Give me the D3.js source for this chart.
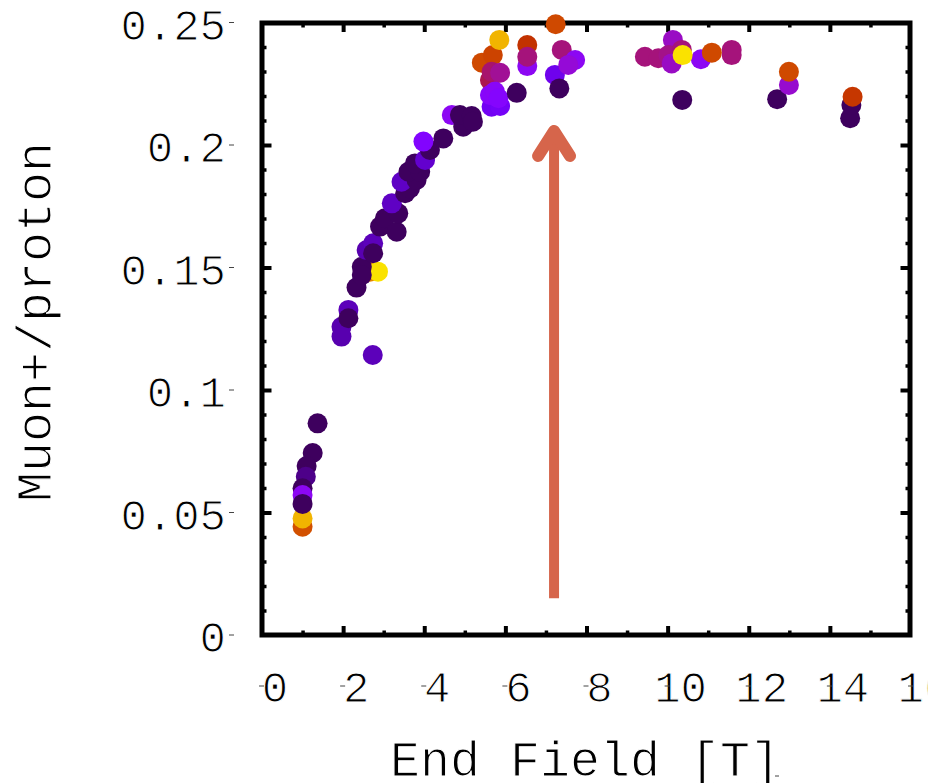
<!DOCTYPE html>
<html>
<head>
<meta charset="utf-8">
<script src="https://cdn.jsdelivr.net/npm/d3@7"></script>
<style>
  html, body { margin: 0; padding: 0; background: #ffffff; }
  svg { display: block; }
  text { font-family: "Liberation Mono", "Courier New", monospace; fill: #000;
         stroke: #fff; stroke-width: 1.1px; paint-order: normal; }
</style>
</head>
<body>
<svg id="chart" width="928" height="783"></svg>
<script>
// ---------------- data ----------------
// End field [T]
const fieldT = [
  // bottom cluster near 1 T
  1.37, 1.25, 1.10, 1.08, 1.00, 1.00, 1.00, 1.00, 1.00,
  // 2 - 3 T
  2.73, 1.96, 1.96, 2.13, 2.13, 2.33,
  2.66, 2.86, 2.46, 2.46, 2.58, 2.74, 2.74,
  // 3 - 5 T
  2.91, 3.03, 3.32, 3.36, 3.20, 3.53, 3.65, 3.44, 3.81,
  3.61, 3.90, 3.77, 4.02, 4.14, 3.98, 4.47, 4.68, 4.96, 4.88, 5.17, 5.20,
  // 5 - 8 T
  5.42, 5.69, 5.85, 5.62, 5.66, 5.87, 5.66, 5.87, 5.62, 5.74, 5.83,
  6.28, 6.54, 6.54, 6.54, 7.24, 7.39, 7.22, 7.72, 7.55, 7.33,
  // 9 - 12 T
  9.44, 9.77, 10.13, 10.02, 10.35, 10.10, 10.82, 10.37, 11.09, 11.58, 11.58, 10.36,
  // 12 - 15 T
  12.70, 12.99, 12.99, 14.50, 14.53, 14.56
];
// Muon+/proton
const ratio = [
  0.0864, 0.0743, 0.0690, 0.0646, 0.0599, 0.0442, 0.0476, 0.0571, 0.0535,
  0.1143, 0.1258, 0.1218, 0.1327, 0.1293, 0.1418,
  0.1483, 0.1483, 0.1503, 0.1469, 0.1571, 0.1599, 0.1558,
  0.1667, 0.1701, 0.1646, 0.1721, 0.1762, 0.1803, 0.1823, 0.1850, 0.1857,
  0.1891, 0.1891, 0.1925, 0.1939, 0.1980, 0.2014, 0.2027, 0.2122, 0.2075, 0.2122, 0.2118, 0.2095,
  0.2336, 0.2367, 0.2429, 0.2265, 0.2299, 0.2295, 0.2156, 0.2159, 0.2204, 0.2218, 0.2191,
  0.2213, 0.2408, 0.2322, 0.2360, 0.2493, 0.2388, 0.2286, 0.2347, 0.2327, 0.2231,
  0.2360, 0.2354, 0.2429, 0.2367, 0.2388, 0.2333, 0.2350, 0.2367, 0.2377, 0.2388, 0.2367, 0.2184,
  0.2187, 0.2245, 0.2299, 0.2109, 0.2163, 0.2197
];
// colour variable (position on the palette, 0..1)
const colourValue = [
  0.06, 0.06, 0.06, 0.09, 0.06, 0.68, 0.89, 0.30, 0.06,
  0.13, 0.12, 0.12, 0.13, 0.06, 0.06,
  0.80, 0.96, 0.06, 0.06, 0.12, 0.13, 0.06,
  0.06, 0.06, 0.06, 0.06, 0.14, 0.06, 0.06, 0.14, 0.06,
  0.06, 0.06, 0.06, 0.15, 0.06, 0.26, 0.06, 0.30, 0.06, 0.06, 0.06, 0.06,
  0.66, 0.64, 0.89, 0.45, 0.43, 0.40, 0.20, 0.21, 0.28, 0.29, 0.27,
  0.06, 0.58, 0.30, 0.42, 0.66, 0.42, 0.19, 0.30, 0.34, 0.06,
  0.42, 0.42, 0.36, 0.41, 0.42, 0.36, 0.30, 0.96, 0.66, 0.42, 0.42, 0.06,
  0.06, 0.35, 0.66, 0.06, 0.06, 0.60
];

const xTicksMajor = [0, 2, 4, 6, 8, 10, 12, 14, 16];
const xTickLabels = ["0", "2", "4", "6", "8", "10", "12", "14", "16"];
const xTicksMinor = [1, 3, 5, 7, 9, 11, 13, 15];
const yTicksMajor = [0, 0.05, 0.1, 0.15, 0.2, 0.25];
const yTickLabels = ["0", "0.05", "0.1", "0.15", "0.2", "0.25"];
const yTicksMinor = [0.01, 0.02, 0.03, 0.04, 0.06, 0.07, 0.08, 0.09, 0.11, 0.12, 0.13, 0.14,
                     0.16, 0.17, 0.18, 0.19, 0.21, 0.22, 0.23, 0.24];

// arrow marking the chosen end field
const arrowField = [7.2];
const arrowRatio = [0.015, 0.209];

const xTitle = "End Field [T]";
const yTitle = "Muon+/proton";

// ---------------- drawing ----------------
const svg = d3.select("#chart");
const frameL = 262, frameR = 910, frameT = 23, frameB = 635;

const x = d3.scaleLinear().domain([0, 16]).range([frameL, 911]);
const y = d3.scaleLinear().domain([0, 0.25]).range([frameB, 22.5]);

// gnuplot-like default palette (rgbformulae 7,5,15)
const palette = t => d3.rgb(255 * Math.sqrt(t), 255 * Math.pow(t, 3),
                            255 * Math.max(0, Math.sin(2 * Math.PI * t))).formatHex();
const colour = d3.scaleSequential(palette).domain([0, 1]);

// frame
svg.append("rect")
  .attr("x", frameL).attr("y", frameT)
  .attr("width", frameR - frameL).attr("height", frameB - frameT)
  .attr("fill", "none").attr("stroke", "#000").attr("stroke-width", 5);

function tickAxis(axis, tx, ty, width) {
  const g = svg.append("g").attr("transform", `translate(${tx},${ty})`).call(axis);
  g.select(".domain").remove();
  g.selectAll(".tick line").attr("stroke", "#000").attr("stroke-width", width);
  g.selectAll(".tick text").remove();
}
// bottom / top
tickAxis(d3.axisBottom(x).tickValues(xTicksMajor.slice(1, -1)).tickSize(-9).tickFormat(""), 0, frameB, 4);
tickAxis(d3.axisBottom(x).tickValues(xTicksMinor).tickSize(-4.5).tickFormat(""), 0, frameB, 3.5);
tickAxis(d3.axisTop(x).tickValues(xTicksMajor.slice(1, -1)).tickSize(-9).tickFormat(""), 0, frameT, 4);
tickAxis(d3.axisTop(x).tickValues(xTicksMinor).tickSize(-4.5).tickFormat(""), 0, frameT, 3.5);
// left / right
tickAxis(d3.axisLeft(y).tickValues(yTicksMajor.slice(1, -1)).tickSize(-9.5).tickFormat(""), frameL, 0, 4);
tickAxis(d3.axisLeft(y).tickValues(yTicksMinor).tickSize(-4.5).tickFormat(""), frameL, 0, 3.5);
tickAxis(d3.axisRight(y).tickValues(yTicksMajor.slice(1, -1)).tickSize(-9.5).tickFormat(""), frameR, 0, 4);
tickAxis(d3.axisRight(y).tickValues(yTicksMinor).tickSize(-4.5).tickFormat(""), frameR, 0, 3.5);

// x tick labels with their small dash marks
const xl = svg.append("g");
xTicksMajor.forEach((v, i) => {
  const px = x(v);
  xl.append("text").attr("x", px + 13).attr("y", 702)
    .attr("text-anchor", "middle").attr("font-size", 44).text(xTickLabels[i]);
  xl.append("line").attr("x1", px - 3).attr("x2", px + 2).attr("y1", 686).attr("y2", 686)
    .attr("stroke", "#444").attr("stroke-width", 1);
});
// y tick labels with their small dash marks
const yl = svg.append("g");
yTicksMajor.forEach((v, i) => {
  const py = y(v);
  yl.append("text").attr("x", 226).attr("y", py + 17)
    .attr("text-anchor", "end").attr("font-size", 44).text(yTickLabels[i]);
  yl.append("line").attr("x1", 229).attr("x2", 234).attr("y1", py).attr("y2", py)
    .attr("stroke", "#444").attr("stroke-width", 1);
});

// axis titles
svg.append("text").attr("x", 585).attr("y", 776)
  .attr("text-anchor", "middle").attr("font-size", 50).text(xTitle);
svg.append("line").attr("x1", 775).attr("x2", 779).attr("y1", 776).attr("y2", 776)
  .attr("stroke", "#444").attr("stroke-width", 1);
svg.append("text")
  .attr("transform", "translate(51,322) rotate(-90)")
  .attr("text-anchor", "middle").attr("font-size", 50).text(yTitle);

// points
const pts = fieldT.map((f, i) => ({ f, r: ratio[i], c: colourValue[i] }));
svg.append("g").selectAll("circle").data(pts).join("circle")
  .attr("cx", d => x(d.f)).attr("cy", d => y(d.r)).attr("r", 10)
  .attr("fill", d => colour(d.c));

// arrow
const ax = x(arrowField[0]);
const ay0 = y(arrowRatio[0]), ay1 = y(arrowRatio[1]);
const arrowColour = "#d6654b";
svg.append("line").attr("x1", ax).attr("x2", ax).attr("y1", ay0).attr("y2", ay1 + 8)
  .attr("stroke", arrowColour).attr("stroke-width", 10);
svg.append("path")
  .attr("d", d3.line()([[ax - 16, ay1 + 33], [ax, ay1 + 8], [ax + 16, ay1 + 33]]))
  .attr("fill", "none").attr("stroke", arrowColour).attr("stroke-width", 12)
  .attr("stroke-linecap", "round").attr("stroke-linejoin", "round");
</script>
</body>
</html>
